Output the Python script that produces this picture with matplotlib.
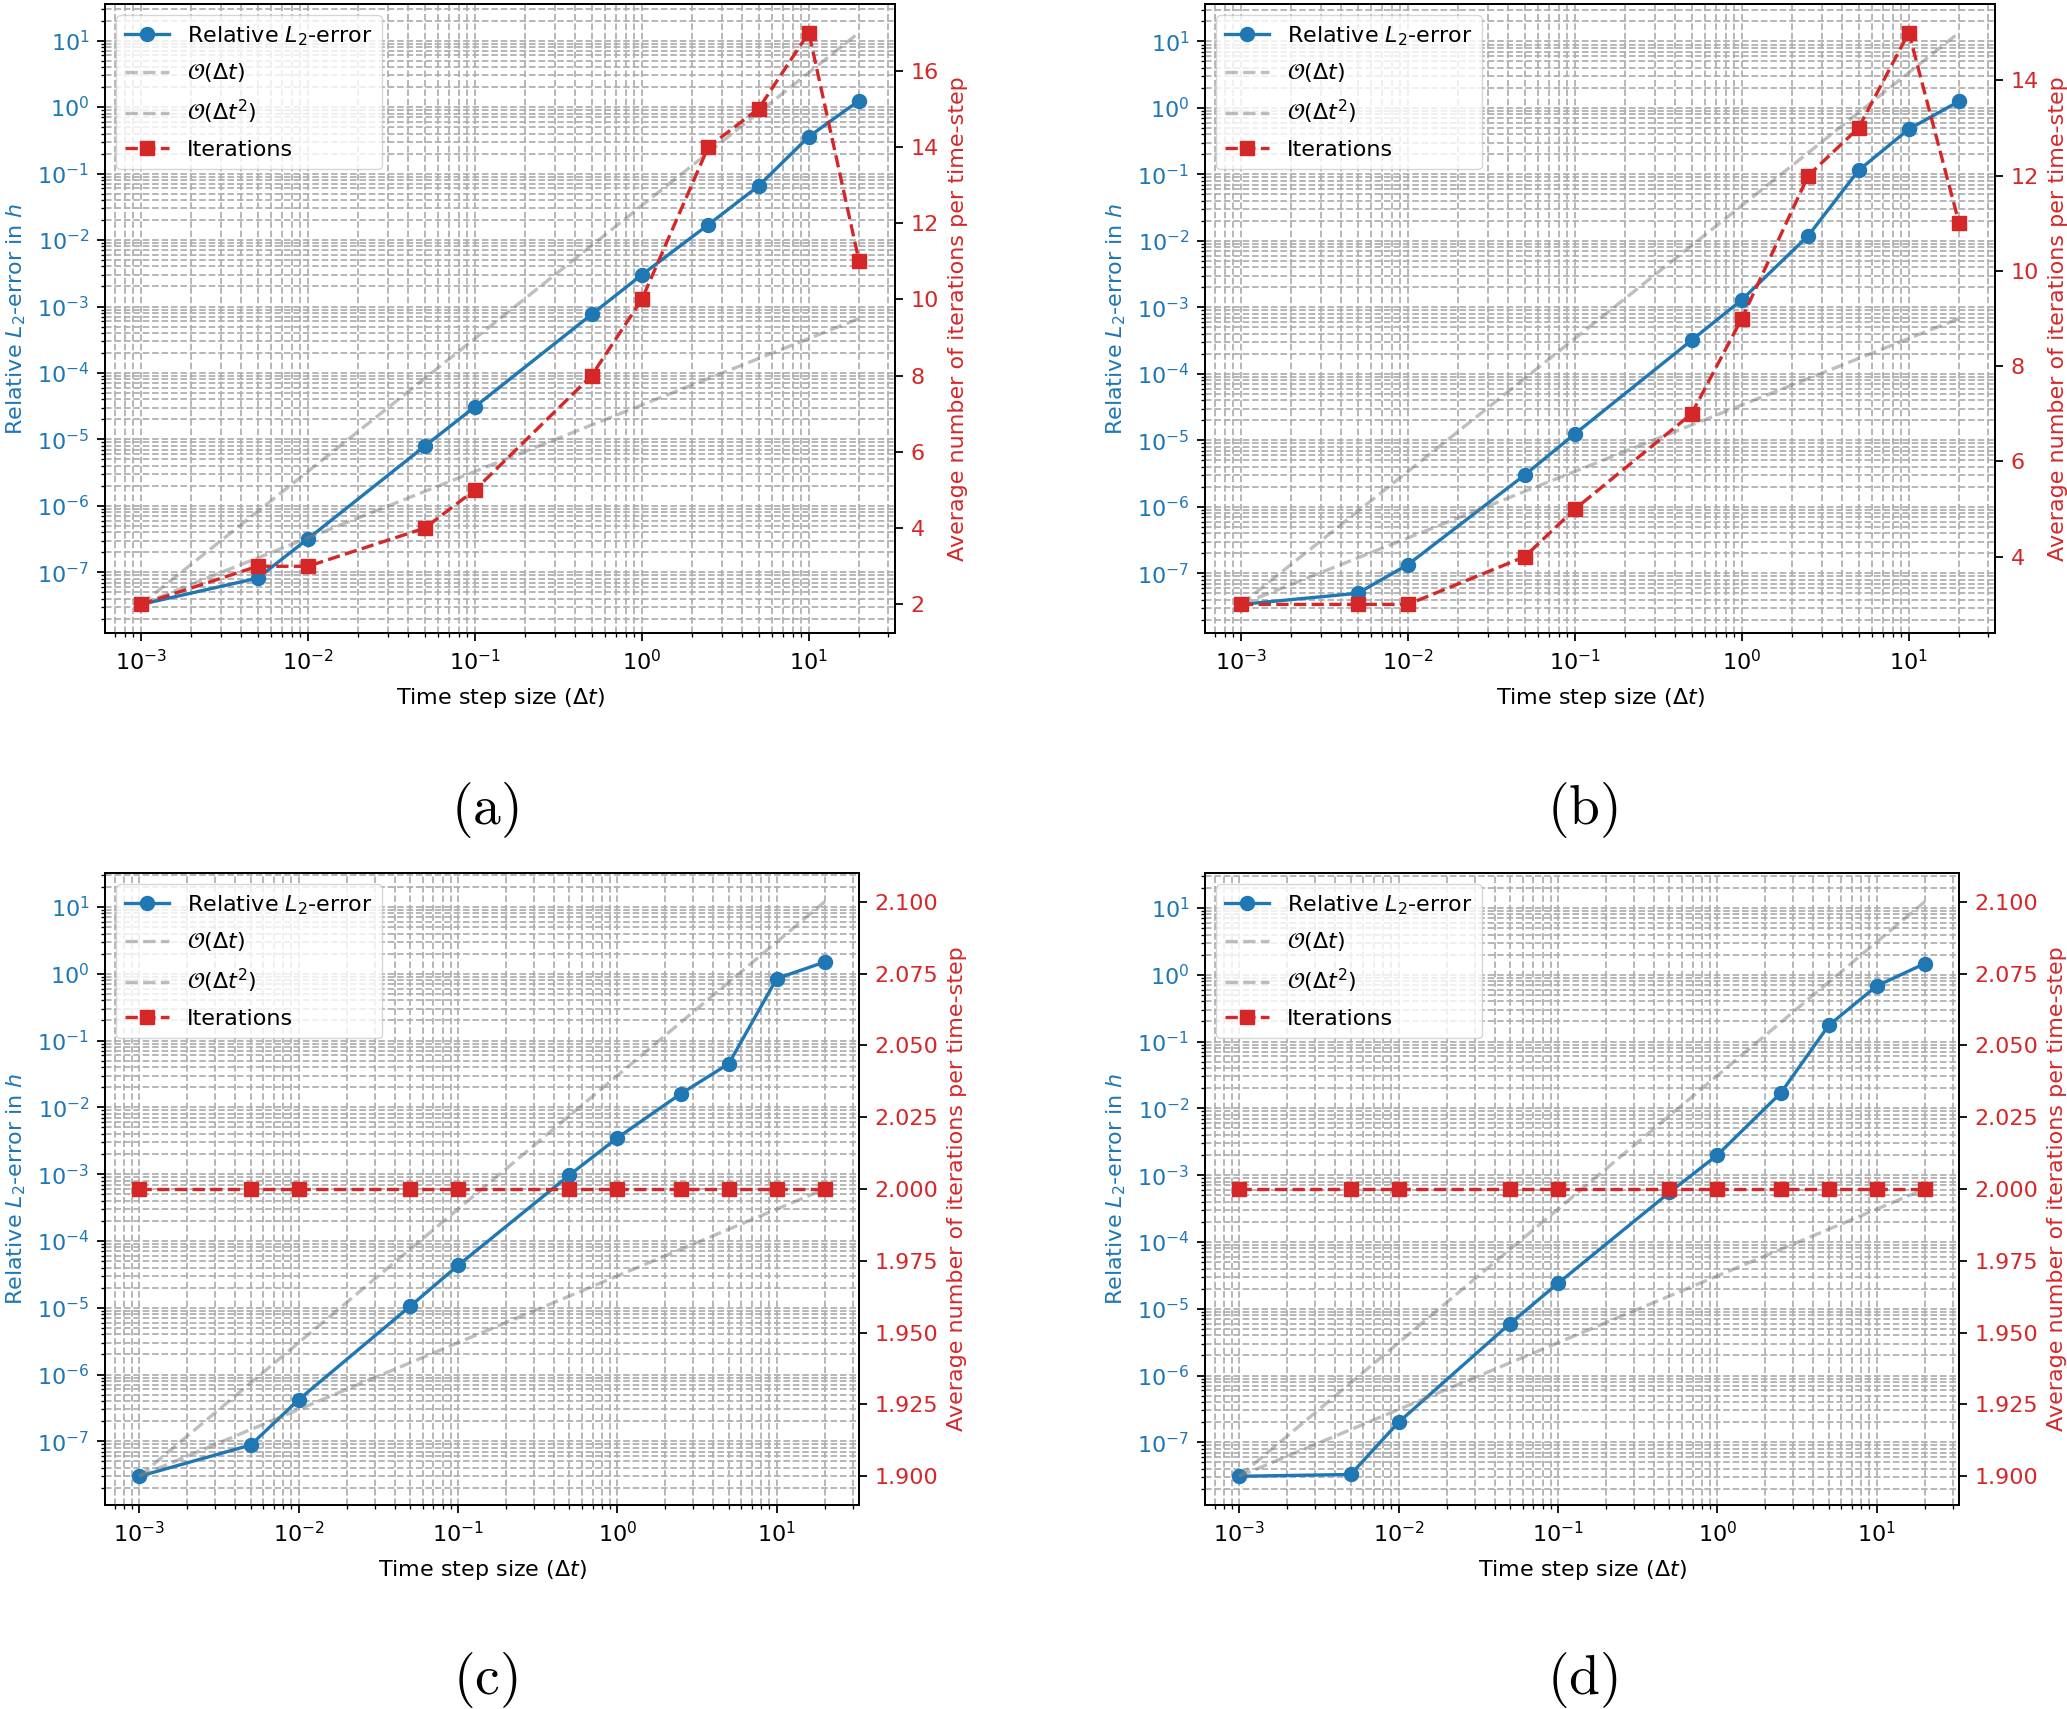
import numpy as np
import matplotlib
matplotlib.use("Agg")
import matplotlib.pyplot as plt

# time step sizes (same for all four cases)
dt = [1e-3, 5e-3, 1e-2, 5e-2, 1e-1, 5e-1, 1.0, 2.5, 5.0, 10.0, 20.0]

# relative L2-error in h
err_a = [3.3e-8, 8.2e-8, 3.2e-7, 7.9e-6, 3.1e-5, 7.6e-4, 3.0e-3, 1.7e-2, 6.5e-2, 3.6e-1, 1.25]
err_b = [3.4e-8, 5.0e-8, 1.35e-7, 3.0e-6, 1.25e-5, 3.2e-4, 1.3e-3, 1.2e-2, 1.15e-1, 4.8e-1, 1.26]
err_c = [3.0e-8, 8.8e-8, 4.2e-7, 1.05e-5, 4.3e-5, 9.7e-4, 3.5e-3, 1.6e-2, 4.5e-2, 0.85, 1.5]
err_d = [3.1e-8, 3.3e-8, 2.0e-7, 6.0e-6, 2.4e-5, 5.5e-4, 2.0e-3, 1.7e-2, 1.75e-1, 0.68, 1.47]

# average number of iterations per time-step
it_a = [2, 3, 3, 4, 5, 8, 10, 14, 15, 17, 11]
it_b = [3, 3, 3, 4, 5, 7, 9, 12, 13, 15, 11]
it_c = [2, 2, 2, 2, 2, 2, 2, 2, 2, 2, 2]
it_d = [2, 2, 2, 2, 2, 2, 2, 2, 2, 2, 2]

captions = ["(a)", "(b)", "(c)", "(d)"]

s = 1.6
plt.rcParams.update({
    "font.size": 10 * s,
    "lines.linewidth": 1.5 * s,
    "lines.markersize": 6.3 * s,
    "axes.linewidth": 0.8 * s,
    "grid.linewidth": 0.8 * s,
    "xtick.major.size": 3.5 * s, "ytick.major.size": 3.5 * s,
    "xtick.minor.size": 2 * s, "ytick.minor.size": 2 * s,
    "xtick.major.width": 0.8 * s, "ytick.major.width": 0.8 * s,
    "xtick.minor.width": 0.6 * s, "ytick.minor.width": 0.6 * s,
    "xtick.major.pad": 3.5 * s, "ytick.major.pad": 3.5 * s,
    "axes.labelpad": 4 * s,
    "legend.labelspacing": 0.62,
})

W, H = 2067, 1709
fig = plt.figure(figsize=(W / 100, H / 100), dpi=100)

boxes = [
    (105, 633, 790, 629),
    (1205, 633, 790, 629),
    (105, 1505, 754, 632),
    (1205, 1505, 754, 632),
]
cap_pos = [(485, 810), (1582, 810), (485, 1680), (1582, 1680)]

errs = [err_a, err_b, err_c, err_d]
its = [it_a, it_b, it_c, it_d]

x = np.array(dt)
for k in range(4):
    l, b, w, h = boxes[k]
    ax = fig.add_axes([l / W, 1 - b / H, w / W, h / H])
    e = np.array(errs[k])
    l1, = ax.loglog(x, e, "o-", color="tab:blue", label=r"Relative $L_2$-error")
    o1, = ax.loglog(x, e[0] * x / x[0], "--", color="gray", alpha=0.5, label=r"$\mathcal{O}(\Delta t)$")
    o2, = ax.loglog(x, e[0] * (x / x[0]) ** 2, "--", color="gray", alpha=0.5, label=r"$\mathcal{O}(\Delta t^2)$")
    ax.set_xlabel(r"Time step size ($\Delta t$)", labelpad=9)
    ax.set_ylabel(r"Relative $L_2$-error in $h$", color="tab:blue")
    ax.tick_params(axis="y", labelcolor="tab:blue")
    ax.grid(True, which="both", linestyle="--")

    ax2 = ax.twinx()
    l2, = ax2.plot(x, its[k], "s--", color="tab:red", label="Iterations")
    ax2.set_ylabel("Average number of iterations per time-step", color="tab:red")
    ax2.tick_params(axis="y", labelcolor="tab:red")

    hs = [l1, o1, o2, l2]
    ax2.legend(hs, [hh.get_label() for hh in hs], loc="upper left")

    cx, cy = cap_pos[k]
    fig.text(cx / W, 1 - cy / H, r"$\mathrm{" + captions[k] + "}$", math_fontfamily="cm",
             fontsize=40, ha="center", va="center")

fig.savefig("out.png", dpi=100)
